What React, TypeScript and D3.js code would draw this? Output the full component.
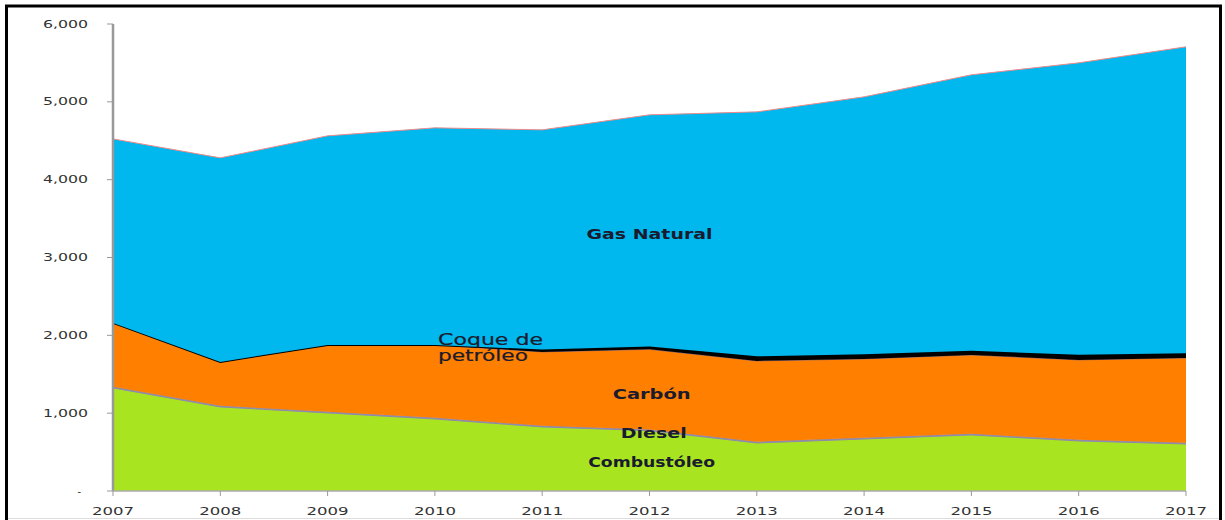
import React from 'react';
import * as d3 from 'd3';

const years = [2007, 2008, 2009, 2010, 2011, 2012, 2013, 2014, 2015, 2016, 2017];
const combustoleo = [1324, 1080, 1003, 925, 823, 775, 617, 668, 720, 643, 604];
const diesel = [15, 15, 15, 15, 15, 15, 15, 15, 15, 15, 15];
const carbon = [821, 563, 859, 937, 949, 1030, 1039, 1014, 1013, 1026, 1091];
const coque = [0, 0, 0, 0, 30, 35, 60, 60, 55, 65, 60];
const gasNatural = [2364, 2622, 2686, 2789, 2823, 2978, 3140, 3307, 3544, 3752, 3937];
const yTicks = [0, 1000, 2000, 3000, 4000, 5000, 6000];

const width = 1225;
const height = 520;
const margin = { top: 24, right: 39, bottom: 29, left: 113 };

const series = [
  { key: 'combustoleo', values: combustoleo, fill: '#a8e520', stroke: '#8a86a8' },
  { key: 'diesel', values: diesel, fill: '#8f8aa8', stroke: '#8f8aa8' },
  { key: 'carbon', values: carbon, fill: '#ff7f00', stroke: '#9a6a6a' },
  { key: 'coque', values: coque, fill: '#000000', stroke: '#000000' },
  { key: 'gas', values: gasNatural, fill: '#00b7ee', stroke: '#f08a8a' },
];

// label text, anchor point (year, value) and the width it spans in the picture
const labels = [
  { text: 'Gas Natural', year: 2012, value: 3300, len: 126 },
  { text: 'Carbón', year: 2012.02, value: 1240, len: 78 },
  { text: 'Diesel', year: 2012.04, value: 740, len: 66 },
  { text: 'Combustóleo', year: 2012.02, value: 370, len: 127 },
];

export default function App() {
  const x = d3.scaleLinear().domain([2007, 2017]).range([margin.left, width - margin.right]);
  const y = d3.scaleLinear().domain([0, 6000]).range([height - margin.bottom, margin.top]);

  const table = years.map((yr, i) => {
    const row: any = { year: yr };
    series.forEach((s) => { row[s.key] = s.values[i]; });
    return row;
  });
  const stacked = d3.stack().keys(series.map((s) => s.key))(table);

  const area = d3.area<any>()
    .x((d) => x(d.data.year))
    .y0((d) => y(d[0]))
    .y1((d) => y(d[1]));
  const topLine = d3.line<any>()
    .x((d) => x(d.data.year))
    .y((d) => y(d[1]));

  const font = '"DejaVu Sans", Verdana, sans-serif';
  const x0 = x(2007);
  const x1 = x(2017);
  const yBase = y(0);

  return (
    <svg width={width} height={height} style={{ position: 'absolute', left: 0, top: 0, background: '#fff' }}>
      {stacked.map((layer, i) => (
        <g key={series[i].key}>
          <path d={area(layer) || ''} fill={series[i].fill} />
          <path d={topLine(layer) || ''} fill="none" stroke={series[i].stroke}
            strokeWidth={series[i].key === 'coque' ? 2 : 1} />
        </g>
      ))}

      {/* axes */}
      <line x1={x0} x2={x0} y1={y(6000)} y2={yBase} stroke="#999" strokeWidth={2.5} />
      <line x1={x0} x2={x1} y1={yBase} y2={yBase} stroke="#aaa" strokeWidth={1.5} />
      {yTicks.map((t) => (
        <g key={t}>
          <line x1={x0 - 6} x2={x0} y1={y(t)} y2={y(t)} stroke="#999" strokeWidth={1} />
          {t === 0 ? (
            <text x={81} y={y(t)} dy="0.35em" textAnchor="end" fontFamily={font} fontSize={10} fill="#333">-</text>
          ) : (
            <text x={88} y={y(t)} dy="0.35em" textAnchor="end" fontFamily={font} fontSize={10} fill="#333"
              textLength={45} lengthAdjust="spacingAndGlyphs">
              {d3.format(',')(t)}
            </text>
          )}
        </g>
      ))}
      {years.map((yr) => (
        <g key={yr}>
          <line x1={x(yr)} x2={x(yr)} y1={yBase} y2={yBase + 5} stroke="#999" strokeWidth={1} />
          <text x={x(yr)} y={yBase + 24} textAnchor="middle" fontFamily={font} fontSize={10} fill="#333"
            textLength={42} lengthAdjust="spacingAndGlyphs">
            {yr}
          </text>
        </g>
      ))}

      {/* series labels */}
      {labels.map((l) => (
        <text key={l.text} x={x(l.year)} y={y(l.value)} dy="0.35em" textAnchor="middle"
          fontFamily={font} fontSize={14} fontWeight="bold" fill="#1b1b2f"
          textLength={l.len} lengthAdjust="spacingAndGlyphs">
          {l.text}
        </text>
      ))}
      <text fontFamily={font} fontSize={15} fill="#1b1b2f" stroke="#1b1b2f" strokeWidth={0.2}>
        <tspan x={438} y={345} textLength={105} lengthAdjust="spacingAndGlyphs">Coque de</tspan>
        <tspan x={438} y={361} textLength={90} lengthAdjust="spacingAndGlyphs">petróleo</tspan>
      </text>

      {/* frame */}
      <line x1={6.5} x2={6.5} y1={5} y2={height} stroke="#000" strokeWidth={3} />
      <line x1={5} x2={1222} y1={6} y2={6} stroke="#000" strokeWidth={3} />
      <line x1={1220.5} x2={1220.5} y1={5} y2={height} stroke="#000" strokeWidth={3} />
      <line x1={8} x2={1219} y1={518.5} y2={518.5} stroke="#ddd" strokeWidth={1} />
    </svg>
  );
}
